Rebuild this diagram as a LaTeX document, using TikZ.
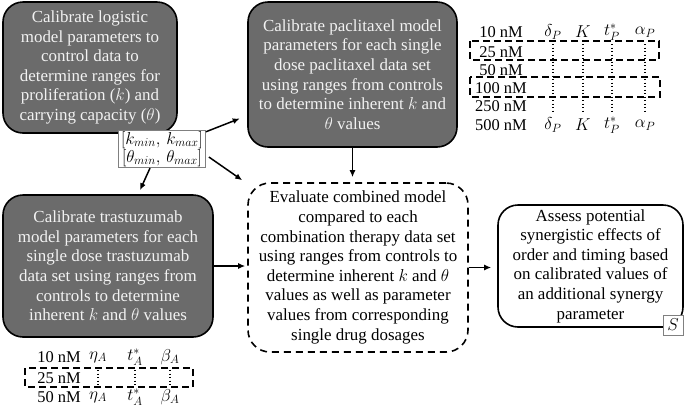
\documentclass[tikz,border=0pt]{standalone}
\usepackage{fontspec}
\setmainfont{Liberation Serif}
\usetikzlibrary{calc,arrows.meta}
\definecolor{boxgray}{HTML}{6B6B6B}
\definecolor{boxtext}{HTML}{F2F2F2}
\tikzset{
  graybox/.style={draw=black,line width=1.6bp,fill=boxgray,text=boxtext,rounded corners=20bp,
    align=center,font=\fontsize{17}{19.7}\selectfont,inner sep=1bp},
  dashbox/.style={draw=black,line width=1.6bp,dash pattern=on 7bp off 5bp,rounded corners=22bp,
    align=center,font=\fontsize{17}{19.7}\selectfont,inner sep=1bp},
  whitebox/.style={draw=black,line width=1.6bp,rounded corners=20bp,
    align=center,font=\fontsize{17}{19.7}\selectfont,inner sep=1bp},
  tagbox/.style={draw=gray,line width=0.8bp,fill=white,inner sep=1bp,align=center,
    font=\fontsize{16.5}{17}\selectfont},
  arr/.style={-{Latex[length=7bp,width=6bp]},line width=1.5bp},
  cell/.style={inner sep=0pt,font=\fontsize{16.5}{18}\selectfont},
  dotcol/.style={line width=1.3bp,dash pattern=on 1.3bp off 2.2bp},
  rowbox/.style={draw=black,line width=1.4bp,dash pattern=on 7bp off 4bp}
}
\begin{document}
\begin{tikzpicture}[x=1bp,y=-1bp]
\useasboundingbox (0,0) rectangle (685,406);

\node[graybox,minimum width=174bp,minimum height=131bp] (B1) at (90,67.5)
  {Calibrate logistic\\model parameters to\\control data to\\determine ranges for\\proliferation ($k$) and\\carrying capacity ($\theta$)};
\node[graybox,minimum width=209bp,minimum height=145bp] (P) at (352.5,74.5)
  {Calibrate paclitaxel model\\parameters for each single\\dose paclitaxel data set\\using ranges from controls\\to determine inherent $k$ and\\$\theta$ values};
\node[graybox,minimum width=210bp,minimum height=142bp] (T) at (108,266)
  {Calibrate trastuzumab\\model parameters for each\\single dose trastuzumab\\data set using ranges from\\controls to determine\\inherent $k$ and $\theta$ values};
\node[dashbox,minimum width=220bp,minimum height=169bp] (C) at (358,267.5)
  {Evaluate combined model\\compared to each\\combination therapy data set\\using ranges from controls to\\determine inherent $k$ and $\theta$\\values as well as parameter\\values from corresponding\\single drug dosages};
\node[whitebox,minimum width=185bp,minimum height=122bp] (S) at (590.5,266)
  {Assess potential\\synergistic effects of\\order and timing based\\on calibrated values of\\an additional synergy\\parameter};
\node[tagbox,minimum width=20bp,minimum height=20bp] (Stag) at (673,325) {$S$};
\node[tagbox,minimum width=87bp,minimum height=36bp] (L) at (162,149)
  {$[k_{min},\,k_{max}]$\\$[\theta_{min},\,\theta_{max}]$};

% connectors
\draw[arr,shorten >=8bp] (L) -- (P);
\draw[arr] ($(L.east)+(3,8)$) -- ($(C.north west)+(-5,-2)$);
\draw[arr] ($(L.south)+(-12,0)$) -- ($(T.north)+(32,-4)$);
\draw[arr] (P.south) -- ($(P.south |- C.north)+(0,-5)$);
\draw[arr,shorten >=2bp] (T.east) -- (T.east -| C.west);
\draw[arr,shorten >=6bp] (C.east) -- (C.east -| S.west);

% paclitaxel table
\foreach \lab/\y [count=\i] in {10 nM/32,25 nM/52,50 nM/70,100 nM/88,250 nM/106,500 nM/125}{
  \node[cell] (pr\i) at (501,\y) {\lab};
}
\foreach \x/\c in {553/{\delta_P},583/{K},612/{t_P^*},645/{\alpha_P}}{
  \node[cell] at (\x,32) {$\c$};
  \node[cell] at (\x,125) {$\c$};
  \draw[dotcol] (\x,44) -- (\x,112);
}
\draw[rowbox] (470,41) rectangle (659,60);
\draw[rowbox] (470,77) rectangle (660,97);

% trastuzumab table
\foreach \lab/\y [count=\i] in {10 nM/357,25 nM/378,50 nM/397}{
  \node[cell] (ar\i) at (59,\y) {\lab};
}
\foreach \x/\c in {98/{\eta_A},135/{t_A^*},170/{\beta_A}}{
  \node[cell] at (\x,357) {$\c$};
  \node[cell] at (\x,397) {$\c$};
  \draw[dotcol] (\x,370) -- (\x,385);
}
\draw[rowbox] (25,368) rectangle (193,387);
\end{tikzpicture}
\end{document}
